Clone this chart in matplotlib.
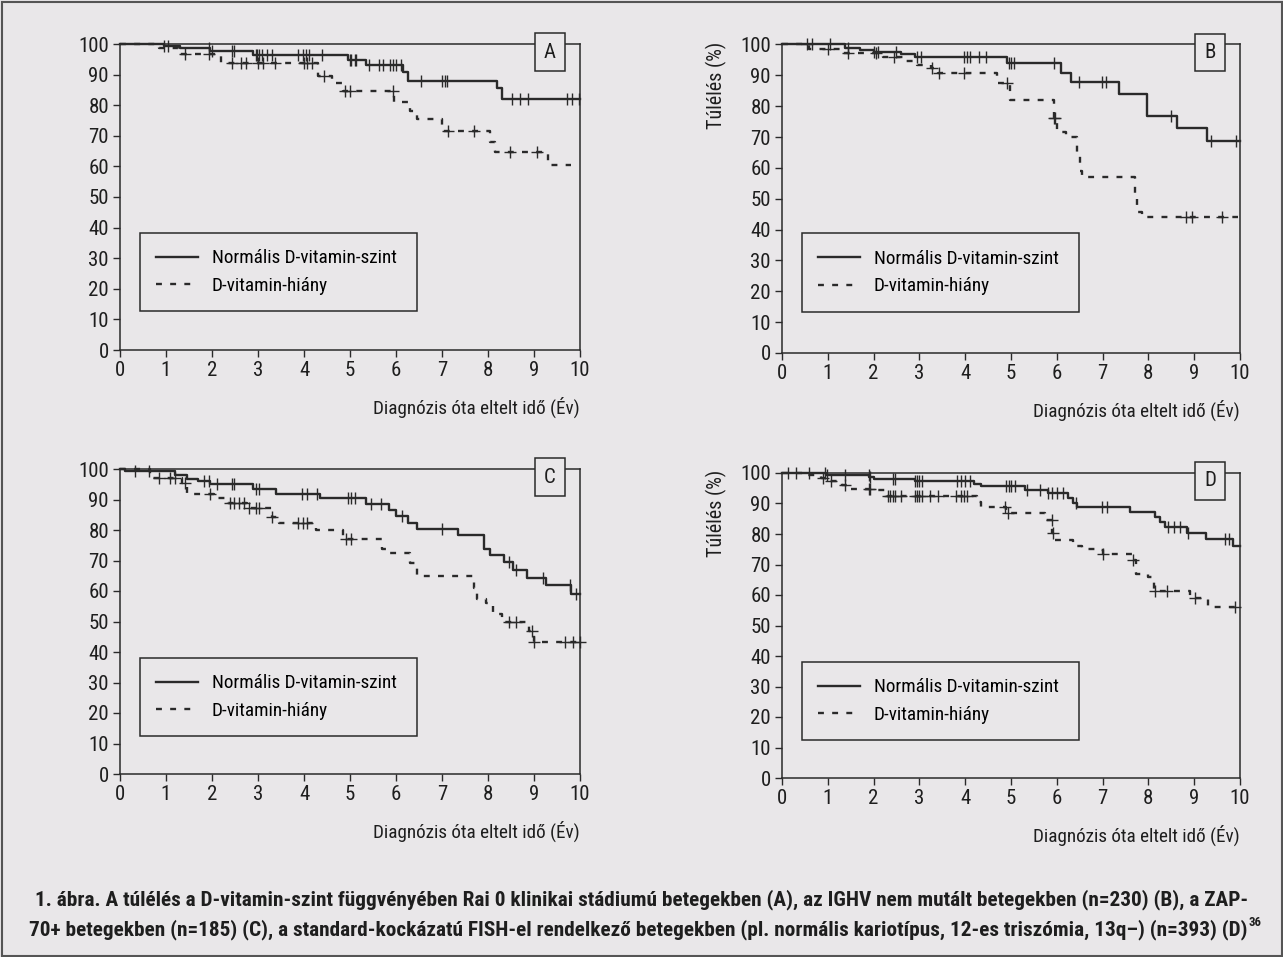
import numpy as np
import matplotlib
matplotlib.use("Agg")
import matplotlib.pyplot as plt
from matplotlib.patches import Rectangle
from matplotlib import font_manager as fm

# ---- data (time in years, survival %) ----
a_norm_t = [0, 0.95, 1.3, 1.95, 2.9, 4.95, 5.35, 6.15, 6.25, 8.2, 8.3, 10]
a_norm_s = [100, 99.3, 98.8, 97.6, 96.4, 94.8, 93.0, 91.0, 88.0, 85.5, 82.0, 82.0]
a_norm_c = [0.95, 1.05, 1.93, 2.0, 2.44, 2.47, 2.95, 2.98, 3.02, 3.09, 3.2, 3.31, 3.86, 3.97,
            4.04, 4.11, 4.4, 4.99, 5.02, 5.1, 5.13, 5.42, 5.64, 5.71, 5.86, 5.93, 6.0, 6.11,
            6.55, 6.99, 7.06, 7.1, 8.52, 8.7, 8.88, 9.72, 9.83, 9.97]
a_def_t = [0, 0.85, 1.25, 2.2, 4.3, 4.6, 4.85, 5.95, 6.3, 6.45, 7.0, 8.05, 8.15, 9.3, 9.8]
a_def_s = [100, 98.8, 96.6, 93.8, 89.5, 87.2, 84.5, 81.2, 78.0, 75.5, 71.5, 68.0, 64.6, 60.5, 60.5]
a_def_c = [1.42, 1.93, 2.44, 2.62, 2.73, 3.0, 3.1, 3.38, 4.0, 4.07, 4.18, 4.44, 4.9, 4.99,
           5.93, 7.13, 7.7, 8.48, 9.06]

b_norm_t = [0, 1.38, 1.7, 2.0, 2.6, 2.9, 4.92, 6.1, 6.3, 7.35, 7.98, 8.62, 9.28, 10]
b_norm_s = [100, 99.0, 98.2, 97.6, 97.0, 95.8, 94.0, 90.8, 88.0, 84.1, 76.7, 72.8, 68.7, 68.7]
b_norm_c = [0.65, 1.05, 1.45, 2.0, 2.1, 2.48, 2.95, 3.03, 3.98, 4.05, 4.1, 4.3, 4.45, 4.95,
            5.0, 5.06, 5.93, 6.48, 6.98, 7.08, 8.49, 9.37, 9.92]
b_def_t = [0, 0.6, 1.3, 2.2, 2.7, 2.95, 3.25, 3.4, 4.7, 4.97, 5.93, 6.0, 6.2, 6.45, 6.5,
           6.55, 7.7, 7.75, 7.85, 9.95]
b_def_s = [100, 98.4, 97.4, 96.0, 94.6, 93.4, 92.4, 90.6, 87.4, 81.9, 76.3, 71.6, 70.0, 63.7,
           59.0, 57.0, 50.7, 45.8, 44.0, 44.0]
b_def_c = [0.55, 1.0, 1.45, 2.05, 2.45, 3.27, 3.42, 3.97, 4.92, 5.93, 5.97, 8.83, 8.95, 9.6]

c_norm_t = [0, 0.1, 1.2, 1.45, 1.7, 1.95, 2.9, 3.4, 4.35, 5.35, 5.85, 6.0, 6.25, 6.45, 7.35,
            7.92, 8.05, 8.35, 8.55, 8.85, 9.25, 9.8, 10]
c_norm_s = [100, 99.3, 98.0, 96.8, 96.0, 95.0, 93.3, 91.8, 90.4, 88.6, 86.7, 84.7, 82.3, 80.2,
            78.2, 73.8, 71.8, 69.5, 67.0, 64.4, 61.9, 59.0, 59.0]
c_norm_c = [0.33, 0.62, 1.82, 1.93, 2.11, 2.44, 2.47, 2.95, 3.02, 3.96, 4.07, 4.29, 4.95, 5.02,
            5.1, 5.46, 5.68, 6.12, 6.99, 8.45, 8.6, 9.2, 9.78, 9.92]
c_def_t = [0, 0.65, 1.35, 1.45, 2.05, 2.35, 2.75, 3.3, 3.45, 4.25, 4.85, 5.7, 5.85, 6.3, 6.45,
           7.7, 7.75, 7.95, 8.1, 8.3, 8.9, 9.0, 10]
c_def_s = [100, 96.9, 95.3, 91.8, 90.4, 88.8, 87.1, 84.4, 82.4, 80.0, 76.9, 73.8, 72.3, 69.3,
           65.0, 61.0, 57.5, 56.0, 52.4, 50.0, 47.0, 43.4, 43.4]
c_def_c = [0.84, 1.09, 1.2, 1.42, 1.96, 2.4, 2.47, 2.58, 2.69, 2.8, 2.95, 3.02, 3.31, 3.86,
           3.97, 4.07, 4.91, 5.02, 8.45, 8.6, 8.96, 9.0, 9.67, 9.85, 9.99]

d_norm_t = [0, 0.95, 1.9, 2.0, 2.9, 4.2, 4.35, 5.3, 5.8, 6.25, 6.35, 6.45, 7.6, 8.15, 8.25,
            8.36, 8.85, 9.25, 9.85, 10]
d_norm_s = [100, 99.5, 98.6, 98.0, 97.3, 96.3, 95.7, 94.4, 93.3, 91.7, 90.0, 89.0, 87.3, 85.6,
            84.0, 82.3, 80.4, 78.2, 76.0, 76.0]
d_norm_c = [0.14, 0.3, 0.58, 0.94, 0.98, 1.38, 1.89, 1.92, 2.43, 2.46, 2.9, 2.95, 3.0, 3.05,
            3.82, 3.9, 4.0, 4.1, 4.9, 4.95, 5.0, 5.08, 5.34, 5.63, 5.81, 5.9, 6.0, 6.14, 6.43,
            6.99, 7.09, 8.43, 8.55, 8.7, 8.87, 9.67, 9.75]
d_def_t = [0, 0.5, 0.85, 1.05, 1.3, 1.45, 2.1, 2.3, 4.25, 4.35, 4.9, 5.75, 5.9, 5.95, 6.35,
           6.55, 6.85, 7.0, 7.65, 7.72, 8.0, 8.12, 8.9, 9.3, 10]
d_def_s = [100, 99.2, 98.2, 97.5, 96.0, 94.9, 94.4, 92.4, 90.6, 89.0, 86.8, 84.7, 80.2, 78.0,
           76.0, 75.2, 74.6, 73.4, 71.5, 67.0, 65.8, 61.3, 58.9, 56.1, 56.1]
d_def_c = [0.9, 1.08, 1.38, 1.89, 1.93, 2.32, 2.36, 2.42, 2.47, 2.6, 2.9, 2.95, 3.0, 3.05,
           3.23, 3.41, 3.81, 3.9, 3.97, 4.03, 4.87, 4.94, 5.89, 5.92, 7.0, 7.67, 8.15, 8.4,
           9.02, 9.89]

panels = ['A', 'B', 'C', 'D']
legend_labels = ['Normális D-vitamin-szint', 'D-vitamin-hiány']
x_ticks = list(range(0, 11))
y_ticks = list(range(0, 101, 10))
xlabel = 'Diagnózis óta eltelt idő (Év)'
ylabel = 'Túlélés (%)'
caption1 = ('1. ábra. A túlélés a D-vitamin-szint függvényében Rai 0 klinikai stádiumú betegekben (A), '
            'az IGHV nem mutált betegekben (n=230) (B), a ZAP-')
caption2 = ('70+ betegekben (n=185) (C), a standard-kockázatú FISH-el rendelkező betegekben '
            '(pl. normális kariotípus, 12-es triszómia, 13q–) (n=393) (D)')

data = {
    'A': (a_norm_t, a_norm_s, a_norm_c, a_def_t, a_def_s, a_def_c),
    'B': (b_norm_t, b_norm_s, b_norm_c, b_def_t, b_def_s, b_def_c),
    'C': (c_norm_t, c_norm_s, c_norm_c, c_def_t, c_def_s, c_def_c),
    'D': (d_norm_t, d_norm_s, d_norm_c, d_def_t, d_def_s, d_def_c),
}


# pick a narrow font if one is installed
def pick_font():
    for name in ['Roboto Condensed', 'Open Sans Condensed', 'Liberation Sans Narrow',
                 'DejaVu Sans Condensed', 'Noto Sans Condensed']:
        try:
            fm.findfont(fm.FontProperties(family=name), fallback_to_default=False)
            return name, 'normal'
        except Exception:
            pass
    path = fm.findfont(fm.FontProperties(family='DejaVu Sans', stretch='condensed'))
    if 'Condensed' in path:
        return 'DejaVu Sans', 'condensed'
    return 'Liberation Sans', 'normal'


fam, stretch = pick_font()
plt.rcParams['font.family'] = [fam, 'DejaVu Sans']
plt.rcParams['font.stretch'] = stretch

W, H = 1283, 957
bg = '#e9e7e9'
ink = '#2a2a2a'
txt = '#1e1e1e'
fig = plt.figure(figsize=(W / 100, H / 100), dpi=100, facecolor=bg)

# axes boxes in pixels: left, right, top(y=100), bottom(y=0)
boxes = {'A': (120, 580, 44, 350), 'B': (782, 1240, 44.5, 353),
         'C': (120, 580, 469, 774), 'D': (782, 1240, 473, 778)}
fs = 13.8
tick_fs = 15


def censor_y(t, s, c):
    idx = np.searchsorted(np.asarray(t), c, side='right') - 1
    return np.asarray(s)[idx]


for p in panels:
    l, r, top, bot = boxes[p]
    ax = fig.add_axes([l / W, 1 - bot / H, (r - l) / W, (bot - top) / H])
    ax.set_facecolor(bg)
    nt, ns, nc, dt, ds, dc = data[p]

    ax.step(nt, ns, where='post', color=ink, lw=1.7, label=legend_labels[0], clip_on=False)
    ax.plot(nc, censor_y(nt, ns, nc), ls='none', marker='|', ms=8, mew=1.0, color=ink, clip_on=False)
    ax.step(dt, ds, where='post', color=ink, lw=1.7, ls=(0, (2.5, 3.5)), label=legend_labels[1],
            clip_on=False)
    ax.plot(dc, censor_y(dt, ds, dc), ls='none', marker='+', ms=8, mew=1.0, color=ink, clip_on=False)

    ax.set_xlim(0, 10)
    ax.set_ylim(0, 100)
    ax.set_xticks(x_ticks)
    ax.set_yticks(y_ticks)
    ax.tick_params(direction='out', length=5, width=1.0, pad=3, color=ink, labelsize=tick_fs,
                   labelcolor=txt)
    for sp in ax.spines.values():
        sp.set_color(ink)
        sp.set_linewidth(1.1)
    ax.set_xlabel(xlabel, loc='right', fontsize=fs, color=txt, labelpad=12)

    leg = ax.legend(loc='upper left', bbox_to_anchor=(20 / (r - l), (bot - top - 192) / (bot - top),
                                                      277 / (r - l), 0.01),
                    mode='expand', fontsize=fs, frameon=True, fancybox=False, edgecolor=ink,
                    facecolor=bg, framealpha=1, handlelength=2.2, handletextpad=0.7,
                    borderpad=0.85, labelspacing=0.5, borderaxespad=0)
    leg.get_frame().set_linewidth(1.1)

    ax.text(1 - 30 / (r - l), 1 - 8 / (bot - top), p, transform=ax.transAxes, ha='center',
            va='center', fontsize=15, color=txt, clip_on=False,
            bbox=dict(boxstyle='square,pad=0.45', fc=bg, ec=ink, lw=1.1))

    if p in ('B', 'D'):
        fig.text(716 / W, 1 - (top - 3) / H, ylabel, rotation=90, ha='center', va='top',
                 fontsize=14.5, color=txt)

# caption, sized so the first line spans about 1205 px like the reference
cap_fs = 13.0
t1 = fig.text(642 / W, 1 - 900 / H, caption1, ha='center', va='center', fontsize=cap_fs,
              fontweight='bold', color=txt)
t2 = fig.text(638 / W, 1 - 930 / H, caption2, ha='center', va='center', fontsize=cap_fs,
              fontweight='bold', color=txt)
fig.canvas.draw()
w1 = t1.get_window_extent().width
cap_fs = cap_fs * 1205 / w1
t1.set_fontsize(cap_fs)
t2.set_fontsize(cap_fs)
fig.canvas.draw()
bb = t2.get_window_extent()
fig.text((bb.x1 + 1) / W, (bb.y1 - 3) / H, '36', ha='left', va='center', fontsize=cap_fs * 0.6,
         fontweight='bold', color=txt)

fig.patches.append(Rectangle((1.5 / W, 1.5 / H), 1 - 3 / W, 1 - 3 / H, transform=fig.transFigure,
                             fill=False, ec='#555', lw=1.5))

fig.savefig('out.png', dpi=100, facecolor=bg)
